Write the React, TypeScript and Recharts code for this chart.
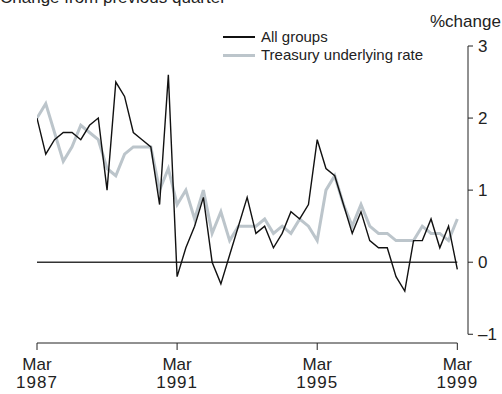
import { LineChart, Line, XAxis, YAxis, ReferenceLine } from 'recharts'

// quarterly % change, Mar 1987 .. Mar 1999
const ALL_GROUPS = [
  2.0, 1.5, 1.7, 1.8, 1.8, 1.7, 1.9, 2.0, 1.0, 2.5, 2.3, 1.8, 1.7, 1.6, 0.8, 2.6,
  -0.2, 0.2, 0.5, 0.9, 0.0, -0.3, 0.1, 0.5, 0.9, 0.4, 0.5, 0.2, 0.4, 0.7, 0.6, 0.8,
  1.7, 1.3, 1.2, 0.8, 0.4, 0.7, 0.3, 0.2, 0.2, -0.2, -0.4, 0.3, 0.3, 0.6, 0.2, 0.5,
  -0.1,
]
const TREASURY = [
  2.0, 2.2, 1.8, 1.4, 1.6, 1.9, 1.8, 1.7, 1.3, 1.2, 1.5, 1.6, 1.6, 1.6, 1.0, 1.3,
  0.8, 1.0, 0.6, 1.0, 0.4, 0.7, 0.3, 0.5, 0.5, 0.5, 0.6, 0.4, 0.5, 0.4, 0.6, 0.5,
  0.3, 1.0, 1.2, 0.8, 0.5, 0.8, 0.5, 0.4, 0.4, 0.3, 0.3, 0.3, 0.5, 0.4, 0.4, 0.3,
  0.6,
]
const X_TICKS = [0, 16, 32, 48]
const X_TICK_YEARS = ['1987', '1991', '1995', '1999']
const Y_TICKS = [-1, 0, 1, 2, 3]

const X_MAX = 49.22
const Y_MIN = -1.121

const FONT = '"Liberation Sans", Arial, sans-serif'
const INK = '#222'
const GREY = '#bcc5cb'

const data = ALL_GROUPS.map((v, i) => ({ q: i, all: v, treasury: TREASURY[i] }))

function XTick({ x, y, payload }: any) {
  const year = X_TICK_YEARS[X_TICKS.indexOf(payload.value)]
  return (
    <text x={x} y={y} textAnchor="middle" fill={INK} fontSize={17} fontFamily={FONT}>
      <tspan x={x} dy={18}>Mar</tspan>
      <tspan x={x} dy={18} letterSpacing={1}>{year}</tspan>
    </text>
  )
}

function LegendBox() {
  const row = (color: string, w: number, label: string) => (
    <div style={{ display: 'flex', alignItems: 'center', height: 18 }}>
      <div style={{ width: 32, height: w, background: color, marginRight: 6 }} />
      <span>{label}</span>
    </div>
  )
  return (
    <div style={{ position: 'absolute', left: 223, top: 28, fontFamily: FONT, fontSize: 15, color: INK, lineHeight: '18px', zIndex: 2 }}>
      {row('#111', 1.5, 'All groups')}
      {row(GREY, 3, 'Treasury underlying rate')}
    </div>
  )
}

export default function App() {
  return (
    <div style={{ position: 'absolute', left: 0, top: 0, width: 502, height: 394, overflow: 'hidden', background: '#fff' }}>
      <div style={{ position: 'absolute', left: 0, top: -12, fontFamily: FONT, fontSize: 17, color: INK, whiteSpace: 'nowrap' }}>
        Change from previous quarter
      </div>
      <div style={{ position: 'absolute', left: 430, top: 12, fontFamily: FONT, fontSize: 17, color: INK }}>
        %change
      </div>
      <LegendBox />
      <LineChart width={502} height={394} data={data} margin={{ top: 46, right: 0, bottom: 0, left: 37 }}>
        <XAxis
          dataKey="q"
          type="number"
          domain={[0, X_MAX]}
          ticks={X_TICKS}
          interval={0}
          allowDataOverflow
          axisLine={false}
          tickLine={{ stroke: INK }}
          tickSize={7}
          height={51}
          tick={<XTick />}
        />
        <YAxis
          orientation="right"
          type="number"
          domain={[Y_MIN, 3]}
          ticks={Y_TICKS}
          interval={0}
          allowDataOverflow
          axisLine={false}
          tickLine={{ stroke: INK }}
          tickSize={5}
          tickMargin={5}
          width={34}
          tick={{ fill: INK, fontSize: 17, fontFamily: FONT, textAnchor: 'start' }}
          tickFormatter={(v: number) => (v < 0 ? `\u2013${-v}` : `${v}`)}
        />
        <ReferenceLine segment={[{ x: 0, y: Y_MIN }, { x: 48, y: Y_MIN }]} stroke={INK} strokeWidth={1} ifOverflow="visible" />
        <ReferenceLine segment={[{ x: X_MAX, y: -1 }, { x: X_MAX, y: 3 }]} stroke={INK} strokeWidth={1} ifOverflow="visible" />
        <ReferenceLine segment={[{ x: 0, y: 0 }, { x: 48, y: 0 }]} stroke="#333" strokeWidth={1.5} ifOverflow="visible" />
        <Line type="linear" dataKey="treasury" stroke={GREY} strokeWidth={3} dot={false} isAnimationActive={false} />
        <Line type="linear" dataKey="all" stroke="#111" strokeWidth={1.4} dot={false} isAnimationActive={false} />
      </LineChart>
    </div>
  )
}
